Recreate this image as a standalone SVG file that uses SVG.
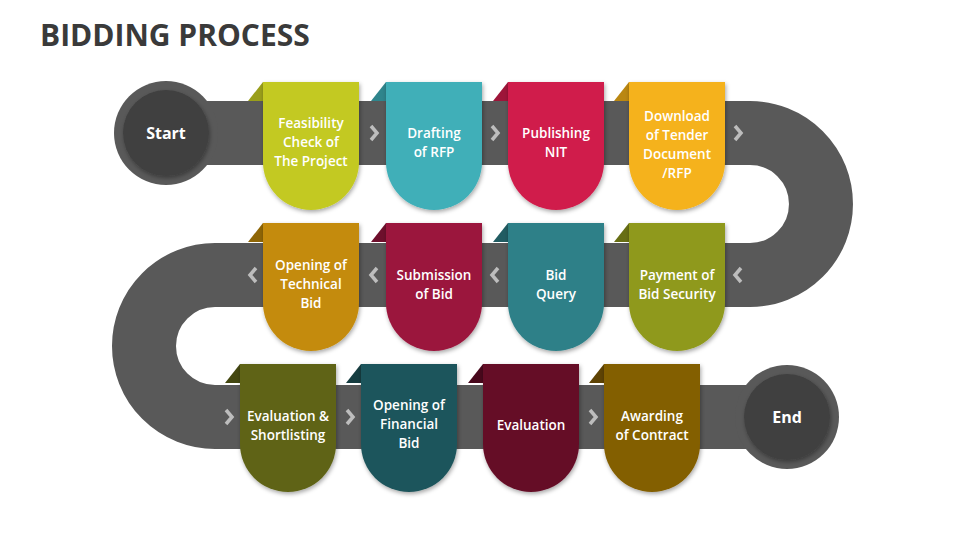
<svg xmlns="http://www.w3.org/2000/svg" width="960" height="540" viewBox="0 0 960 540">
<defs>
<filter id="sh" x="-20%" y="-20%" width="140%" height="140%"><feDropShadow dx="1" dy="2" stdDeviation="2" flood-color="#000" flood-opacity="0.35"/></filter>
<path id="card" d="M0,0 h96 v80 a48,48 0 0 1 -96,0 z"/>
<path id="fold" d="M0,0 L-15,19 L0,19 z"/>
<path id="cr" d="M-3,-7 L3,0 L-3,7" fill="none" stroke="#bdbdbd" stroke-width="3.5"/>
<path id="cl" d="M3,-7 L-3,0 L3,7" fill="none" stroke="#bdbdbd" stroke-width="3.5"/>
</defs>
<style>
.t{font-family:"Open Sans","Liberation Sans",sans-serif;font-weight:600;fill:#fff;font-size:13.5px;text-anchor:middle}
.big{font-size:16px;font-weight:bold}
</style>
<rect width="960" height="540" fill="#fff"/>
<text x="40" y="46" font-family="Open Sans, Liberation Sans, sans-serif" font-weight="bold" font-size="30" fill="#3a3a3a">BIDDING PROCESS</text>
<g id="connectors">
<path d="M166,133 H750 A71,71 0 0 1 750,275 H215 A71,71 0 0 0 215,417 H787" fill="none" stroke="#595959" stroke-width="64"/>
</g>
<g id="start"><circle cx="166" cy="133" r="52" fill="#595959"/><circle cx="166" cy="133" r="43" fill="#404040" filter="url(#sh)"/><text class="t big" x="166" y="139">Start</text></g>
<g id="end"><circle cx="787" cy="417" r="52" fill="#595959"/><circle cx="787" cy="417" r="43" fill="#404040" filter="url(#sh)"/><text class="t big" x="787" y="423">End</text></g>
<g id="chevrons">
<use href="#cr" x="374" y="133"/><use href="#cr" x="495" y="133"/><use href="#cr" x="738" y="133"/>
<use href="#cl" x="253" y="275"/><use href="#cl" x="374" y="275"/><use href="#cl" x="495" y="275"/><use href="#cl" x="738" y="275"/>
<use href="#cr" x="229" y="417"/><use href="#cr" x="350" y="417"/><use href="#cr" x="593" y="417"/>
</g>
<g id="n1" transform="translate(263,82)"><use href="#fold" fill="#9A9F1B"/><use href="#card" fill="#C3C923" filter="url(#sh)"/><text class="t" x="48" y="46">Feasibility</text><text class="t" x="48" y="65">Check of</text><text class="t" x="48" y="84">The Project</text></g>
<g id="n2" transform="translate(386,82)"><use href="#fold" fill="#2F858C"/><use href="#card" fill="#3FAFB8" filter="url(#sh)"/><text class="t" x="48" y="56">Drafting</text><text class="t" x="48" y="75">of RFP</text></g>
<g id="n3" transform="translate(508,82)"><use href="#fold" fill="#9E1539"/><use href="#card" fill="#D01C4B" filter="url(#sh)"/><text class="t" x="48" y="56">Publishing</text><text class="t" x="48" y="75">NIT</text></g>
<g id="n4" transform="translate(629,82)"><use href="#fold" fill="#BA8712"/><use href="#card" fill="#F5B21A" filter="url(#sh)"/><text class="t" x="48" y="39">Download</text><text class="t" x="48" y="58">of Tender</text><text class="t" x="48" y="77">Document</text><text class="t" x="48" y="96">/RFP</text></g>
<g id="n5" transform="translate(263,223)"><use href="#fold" fill="#8F6606"/><use href="#card" fill="#C48B09" filter="url(#sh)"/><text class="t" x="48" y="47">Opening of</text><text class="t" x="48" y="66">Technical</text><text class="t" x="48" y="85">Bid</text></g>
<g id="n6" transform="translate(386,223)"><use href="#fold" fill="#6E0F2C"/><use href="#card" fill="#9B163E" filter="url(#sh)"/><text class="t" x="48" y="57">Submission</text><text class="t" x="48" y="76">of Bid</text></g>
<g id="n7" transform="translate(508,223)"><use href="#fold" fill="#215C62"/><use href="#card" fill="#2F8088" filter="url(#sh)"/><text class="t" x="48" y="57">Bid</text><text class="t" x="48" y="76">Query</text></g>
<g id="n8" transform="translate(629,223)"><use href="#fold" fill="#676E14"/><use href="#card" fill="#8F991C" filter="url(#sh)"/><text class="t" x="48" y="57">Payment of</text><text class="t" x="48" y="76">Bid Security</text></g>
<g id="n9" transform="translate(240,364)"><use href="#fold" fill="#434710"/><use href="#card" fill="#5F6418" filter="url(#sh)"/><text class="t" x="48" y="57">Evaluation &amp;</text><text class="t" x="48" y="76">Shortlisting</text></g>
<g id="n10" transform="translate(361,364)"><use href="#fold" fill="#163D41"/><use href="#card" fill="#1F555B" filter="url(#sh)"/><text class="t" x="48" y="46">Opening of</text><text class="t" x="48" y="65">Financial</text><text class="t" x="48" y="84">Bid</text></g>
<g id="n11" transform="translate(483,364)"><use href="#fold" fill="#48081C"/><use href="#card" fill="#650C27" filter="url(#sh)"/><text class="t" x="48" y="66">Evaluation</text></g>
<g id="n12" transform="translate(604,364)"><use href="#fold" fill="#5E4304"/><use href="#card" fill="#835E05" filter="url(#sh)"/><text class="t" x="48" y="57">Awarding</text><text class="t" x="48" y="76">of Contract</text></g>
</svg>
